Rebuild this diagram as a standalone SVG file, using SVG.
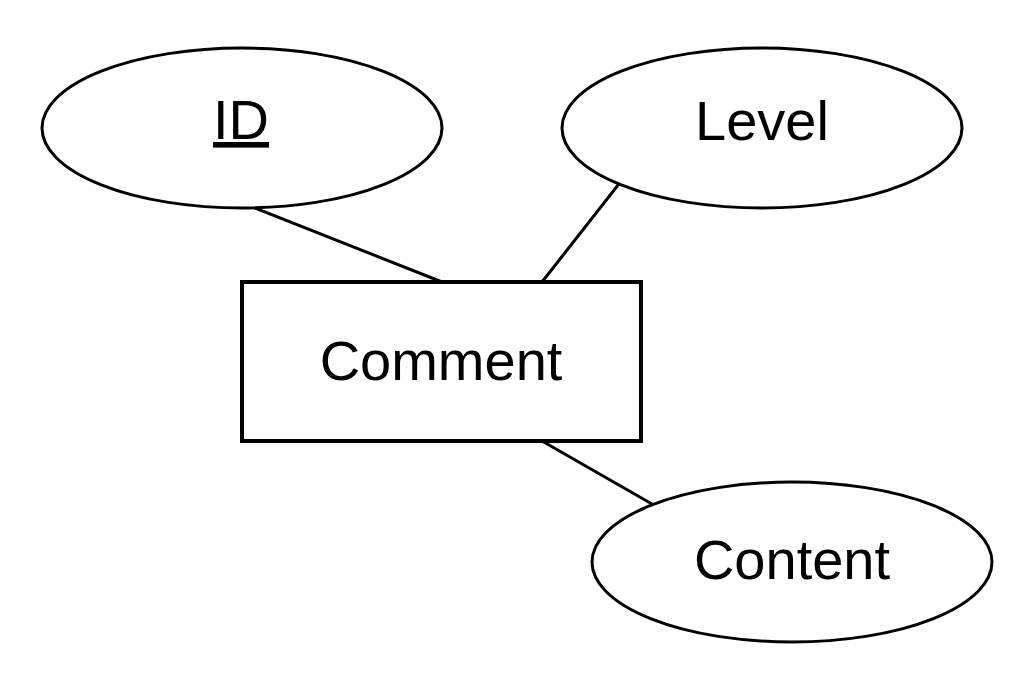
<svg xmlns="http://www.w3.org/2000/svg" width="1036" height="688" viewBox="0 0 1036 688">
<style>
.shape{fill:#fff;stroke:#000;stroke-width:3}
.rect{fill:#fff;stroke:#000;stroke-width:4}
.lbl{font-family:"Liberation Sans",Arial,sans-serif;font-size:56px;fill:#000;text-anchor:middle}
.conn{stroke:#000;stroke-width:3;fill:none}
</style>
<rect width="1036" height="688" fill="#fff"/>
<g id="connectors">
<line class="conn" x1="245" y1="204" x2="442" y2="282"/>
<line class="conn" x1="622" y1="180" x2="542" y2="282"/>
<line class="conn" x1="542" y1="441" x2="652" y2="504"/>
</g>
<g id="node-id">
<ellipse class="shape" cx="242" cy="128" rx="200" ry="80"/>
<text class="lbl" x="241" y="139" text-decoration="underline">ID</text>
</g>
<g id="node-level">
<ellipse class="shape" cx="762" cy="128" rx="200" ry="80"/>
<text class="lbl" x="762" y="140">Level</text>
</g>
<g id="node-comment">
<rect class="rect" x="242" y="282" width="399" height="159"/>
<text class="lbl" x="441" y="380">Comment</text>
</g>
<g id="node-content">
<ellipse class="shape" cx="792" cy="562" rx="200" ry="80"/>
<text class="lbl" x="792" y="579">Content</text>
</g>
</svg>
